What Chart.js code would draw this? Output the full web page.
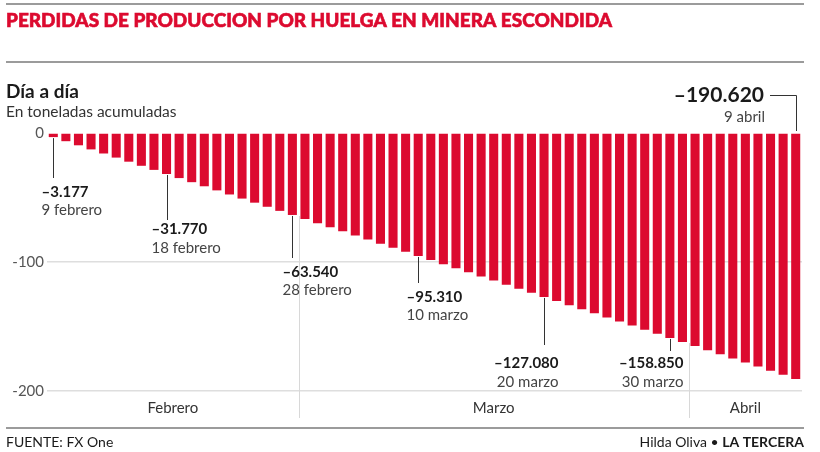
<!DOCTYPE html>
<html><head><meta charset="utf-8">
<script src="https://cdn.jsdelivr.net/npm/chart.js@4"></script>
<style>html,body{margin:0;padding:0;background:#fff}#wrap{width:820px;height:452px;position:relative}</style>
</head><body><div id="wrap"><canvas id="c" width="820" height="452"></canvas></div>
<script>
// ---- data ----
const categories = [
 "9 febrero","10 febrero","11 febrero","12 febrero","13 febrero","14 febrero","15 febrero","16 febrero","17 febrero","18 febrero",
 "19 febrero","20 febrero","21 febrero","22 febrero","23 febrero","24 febrero","25 febrero","26 febrero","27 febrero","28 febrero",
 "1 marzo","2 marzo","3 marzo","4 marzo","5 marzo","6 marzo","7 marzo","8 marzo","9 marzo","10 marzo",
 "11 marzo","12 marzo","13 marzo","14 marzo","15 marzo","16 marzo","17 marzo","18 marzo","19 marzo","20 marzo",
 "21 marzo","22 marzo","23 marzo","24 marzo","25 marzo","26 marzo","27 marzo","28 marzo","29 marzo","30 marzo",
 "31 marzo","1 abril","2 abril","3 abril","4 abril","5 abril","6 abril","7 abril","8 abril","9 abril"
];
const lossValues = [
 -3.177,-6.354,-9.531,-12.708,-15.885,-19.062,-22.239,-25.416,-28.593,-31.770,
 -34.947,-38.124,-41.301,-44.478,-47.655,-50.832,-54.009,-57.186,-60.363,-63.540,
 -66.717,-69.894,-73.071,-76.248,-79.425,-82.602,-85.779,-88.956,-92.133,-95.310,
 -98.487,-101.664,-104.841,-108.018,-111.195,-114.372,-117.549,-120.726,-123.903,-127.080,
 -130.257,-133.434,-136.611,-139.788,-142.965,-146.142,-149.319,-152.496,-155.673,-158.850,
 -162.027,-165.204,-168.381,-171.558,-174.735,-177.912,-181.089,-184.266,-187.443,-190.620
];
const yTickValues = [0, -100, -200];
const monthNames = ["Febrero", "Marzo", "Abril"];
const monthStartIdx = [0, 20, 51];
const highlightIdx = [0, 9, 19, 29, 39, 49, 59];

// ---- layout / style (not data) ----
const RED = "#dc0a2f";
const FONT = "Lato, 'Open Sans', sans-serif";
const annLayout = [
 {align:"left",  dx:-12, lineTo:178, vy:192, dy:210},
 {align:"left",  dx:-16, lineTo:220, vy:229, dy:248},
 {align:"left",  dx:-10, lineTo:258, vy:272, dy:290},
 {align:"left",  dx:-12, lineTo:283, vy:297, dy:315},
 {align:"right", dx:14,  lineTo:345, vy:363, dy:382},
 {align:"right", dx:13,  lineTo:351, vy:363, dy:382}
];

function fmt(v){ return "\u2013" + Math.abs(v).toFixed(3); }

const deco = {
 id: "deco",
 afterDraw(chart){
  const ctx = chart.ctx, x = chart.scales.x, y = chart.scales.y;
  const meta = chart.getDatasetMeta(0);
  ctx.save();
  // frame lines
  ctx.strokeStyle = "#7a7a7a"; ctx.lineWidth = 1.5;
  [4, 62, 428].forEach(yy => { ctx.beginPath(); ctx.moveTo(6, yy); ctx.lineTo(804, yy); ctx.stroke(); });
  // title
  ctx.fillStyle = RED; ctx.textBaseline = "middle"; ctx.textAlign = "left";
  ctx.font = "900 19px " + FONT;
  const title = "PERDIDAS DE PRODUCCION POR HUELGA EN MINERA ESCONDIDA";
  const tw = ctx.measureText(title).width;
  ctx.save(); ctx.translate(6, 21); ctx.scale(606 / tw, 1);
  ctx.fillText(title, 0, 0);
  ctx.lineWidth = 0.6; ctx.strokeStyle = RED; ctx.strokeText(title, 0, 0);
  ctx.restore();
  // subtitle
  ctx.fillStyle = "#1a1a1a"; ctx.font = "bold 19px " + FONT; ctx.fillText("Día a día", 6, 92);
  ctx.fillStyle = "#333"; ctx.font = "15.5px " + FONT; ctx.fillText("En toneladas acumuladas", 6, 112);
  // month separators
  ctx.strokeStyle = "#d8d8d8"; ctx.lineWidth = 1;
  monthStartIdx.slice(1).forEach(i => {
    const bx = (meta.data[i-1].x + meta.data[i].x) / 2;
    const top = y.getPixelForValue(lossValues[i-1]) + 1;
    ctx.beginPath(); ctx.moveTo(Math.round(bx)+0.5, top); ctx.lineTo(Math.round(bx)+0.5, 418); ctx.stroke();
  });
  // month labels
  ctx.fillStyle = "#333"; ctx.font = "15px " + FONT; ctx.textAlign = "center";
  monthStartIdx.forEach((s, k) => {
    const e = k + 1 < monthStartIdx.length ? monthStartIdx[k+1] - 1 : lossValues.length - 1;
    const x0 = k === 0 ? x.left : (meta.data[s-1].x + meta.data[s].x) / 2;
    const x1 = k + 1 < monthStartIdx.length ? (meta.data[e].x + meta.data[e+1].x) / 2 : x.right;
    ctx.fillText(monthNames[k], (x0 + x1) / 2, 408);
  });
  // annotations
  ctx.strokeStyle = "#333"; ctx.lineWidth = 1;
  highlightIdx.forEach((i, k) => {
    const bx = Math.round(meta.data[i].x) + 0.5;
    if (k < annLayout.length) {
      const L = annLayout[k];
      const by = y.getPixelForValue(lossValues[i]) + 1;
      ctx.beginPath(); ctx.moveTo(bx, by); ctx.lineTo(bx, L.lineTo); ctx.stroke();
      ctx.textAlign = L.align;
      ctx.fillStyle = "#1a1a1a"; ctx.font = "bold 15px " + FONT;
      ctx.fillText(fmt(lossValues[i]), bx + L.dx, L.vy);
      ctx.fillStyle = "#444"; ctx.font = "15px " + FONT;
      ctx.fillText(categories[i], bx + L.dx, L.dy);
    } else {
      const by = y.getPixelForValue(0) - 2;
      ctx.beginPath(); ctx.moveTo(bx, by); ctx.lineTo(bx, 95.5); ctx.lineTo(770, 95.5); ctx.stroke();
      ctx.textAlign = "right";
      ctx.fillStyle = "#1a1a1a"; ctx.font = "bold 21px " + FONT;
      ctx.fillText(fmt(lossValues[i]), 764, 95);
      ctx.fillStyle = "#444"; ctx.font = "15px " + FONT;
      ctx.fillText(categories[i], 765, 117);
    }
  });
  // footer
  ctx.textAlign = "left"; ctx.fillStyle = "#1a1a1a"; ctx.font = "14px " + FONT;
  ctx.fillText("FUENTE: FX One", 6, 442);
  ctx.textAlign = "right"; ctx.font = "bold 14px " + FONT;
  const bold = "LA TERCERA"; const bw = ctx.measureText(bold).width;
  ctx.fillText(bold, 804, 442);
  ctx.font = "14px " + FONT;
  ctx.fillText("Hilda Oliva \u2022 ", 804 - bw, 442);
  ctx.restore();
 }
};

new Chart(document.getElementById("c"), {
 type: "bar",
 data: { labels: categories, datasets: [{ data: lossValues, backgroundColor: RED, borderWidth: 0, barPercentage: 0.72, categoryPercentage: 1.0 }] },
 options: {
  responsive: false, animation: false, devicePixelRatio: 1,
  layout: { padding: { top: 133, right: 18, bottom: 61, left: 0 } },
  plugins: { legend: { display: false }, tooltip: { enabled: false } },
  scales: {
   x: { display: false },
   y: {
    min: -200, max: 0,
    afterFit(s){ s.width = 47; },
    afterBuildTicks(s){ s.ticks = yTickValues.map(v => ({ value: v })); },
    border: { display: false },
    grid: { drawTicks: false, color: c => (c.tick && c.tick.value === 0) ? "rgba(0,0,0,0)" : "#dedede", lineWidth: 1.5 },
    ticks: { padding: 3, color: "#555", font: { family: FONT, size: 15 }, callback: v => v === 0 ? "0" : String(v) }
   }
  }
 },
 plugins: [deco]
});
</script></body></html>
